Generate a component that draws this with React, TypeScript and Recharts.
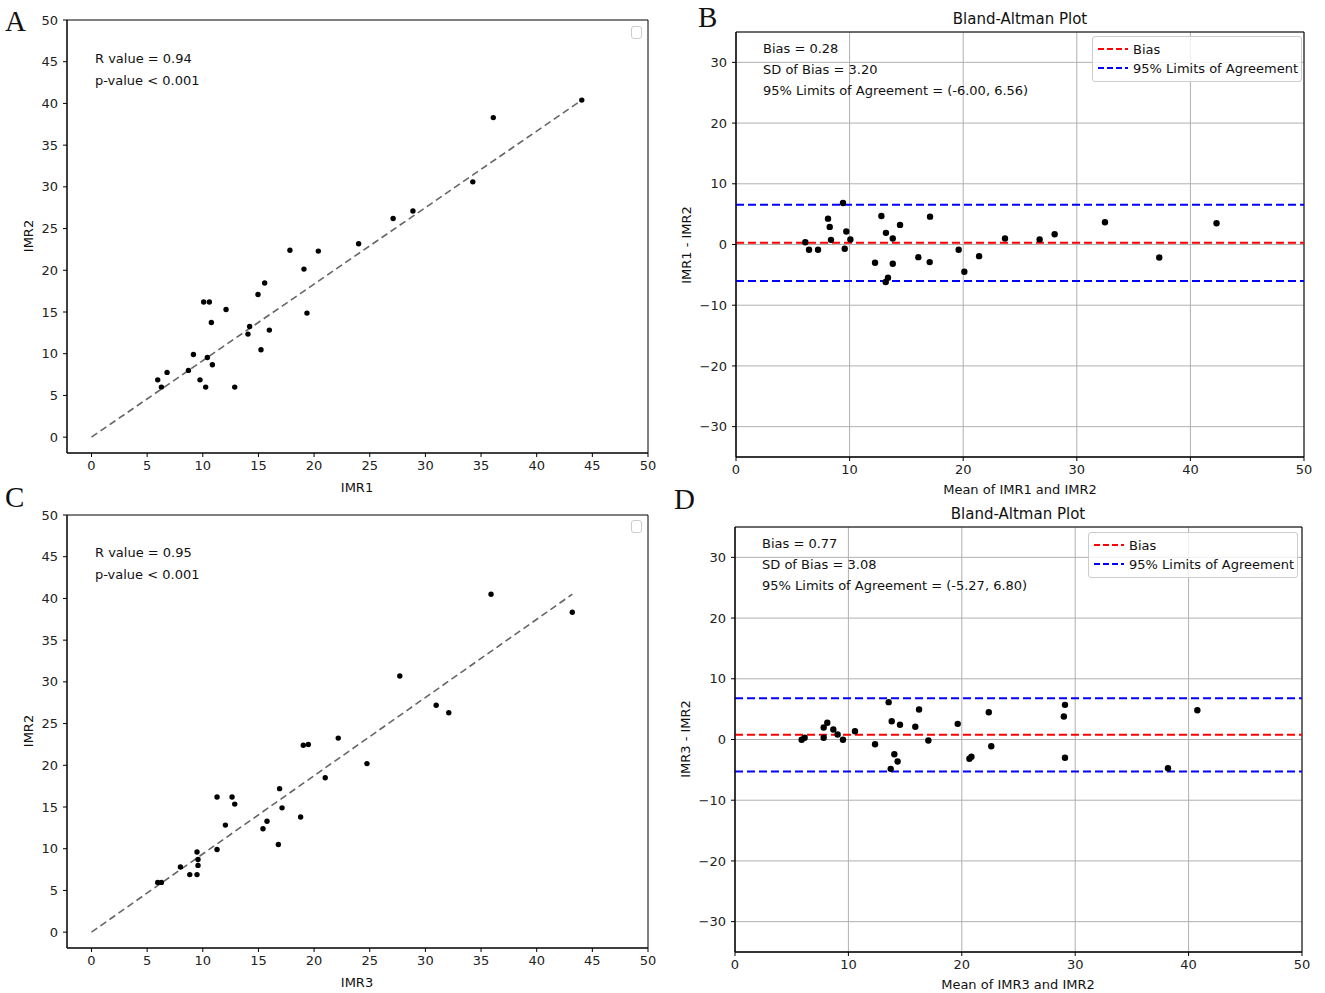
import React from 'react'
import {
  ScatterChart,
  Scatter,
  XAxis,
  YAxis,
  CartesianGrid,
  ReferenceLine,
  ReferenceArea,
} from 'recharts'

// values
const imr1A = [5.95, 6.28, 6.79, 8.71, 9.16, 9.75, 10.26, 10.41, 10.86, 10.08, 10.59, 10.77, 12.09, 12.87, 14.06, 14.21, 15.23, 15.98, 14.96, 15.56, 17.83, 19.09, 19.36, 20.38, 24.0, 27.1, 28.88, 34.26, 36.1, 44.05]
const imr2A = [6.87, 6.0, 7.76, 8.0, 9.9, 6.87, 6.0, 9.55, 8.67, 16.2, 16.2, 13.75, 15.3, 6.0, 12.35, 13.27, 10.47, 12.83, 17.1, 18.47, 22.4, 20.14, 14.87, 22.3, 23.18, 26.2, 27.1, 30.6, 38.3, 40.4]
const fitA = [{ x: 0, y: 0 }, { x: 44.05, y: 40.4 }]

const meanB = [6.1, 6.43, 7.22, 8.1, 8.25, 8.36, 9.42, 9.71, 9.57, 10.07, 12.24, 12.8, 13.2, 13.8, 14.44, 13.8, 13.38, 13.18, 16.05, 17.05, 17.08, 19.6, 20.1, 21.4, 23.68, 26.73, 28.05, 32.48, 37.26, 42.3]
const diffB = [0.38, -0.87, -0.87, 4.26, 2.9, 0.77, 6.84, 2.13, -0.7, 0.82, -3.0, 4.7, 1.92, 0.98, 3.23, -3.16, -5.46, -6.18, -2.08, -2.9, 4.59, -0.87, -4.48, -1.92, 0.98, 0.82, 1.7, 3.66, -2.13, 3.5]
const statsB = { bias: 0.28, sd: 3.2, lo: -6.0, hi: 6.56 }

const imr3C = [5.95, 6.28, 7.99, 8.83, 9.48, 9.48, 9.57, 9.57, 11.28, 11.28, 12.03, 12.63, 12.87, 15.41, 15.77, 16.79, 16.9, 17.12, 18.79, 19.03, 19.48, 21.0, 22.17, 24.75, 27.7, 30.97, 32.1, 35.9, 43.2]
const imr2C = [5.96, 5.96, 7.8, 6.9, 6.9, 9.6, 8.7, 8.0, 9.9, 16.2, 12.83, 16.2, 15.35, 12.4, 13.3, 10.5, 17.2, 14.9, 13.8, 22.4, 22.5, 18.5, 23.26, 20.2, 30.7, 27.2, 26.3, 40.5, 38.35]
const fitC = [{ x: 0, y: 0 }, { x: 43.2, y: 40.5 }]

const meanD = [5.88, 6.14, 7.82, 7.82, 8.14, 8.67, 9.05, 9.52, 10.58, 12.35, 13.55, 13.82, 14.05, 14.34, 13.73, 14.55, 15.9, 16.23, 17.05, 19.64, 20.67, 20.85, 22.38, 22.6, 29.1, 29.0, 29.1, 38.18, 40.77]
const diffD = [-0.05, 0.28, 0.28, 1.98, 2.75, 1.65, 0.82, -0.05, 1.37, -0.77, 6.15, 3.0, -2.42, -3.62, -4.83, 2.42, 2.09, 4.94, -0.16, 2.58, -3.18, -2.85, 4.5, -1.1, 5.71, 3.79, -3.0, -4.73, 4.83]
const statsD = { bias: 0.77, sd: 3.08, lo: -5.27, hi: 6.8 }

const corrTicks = [0, 5, 10, 15, 20, 25, 30, 35, 40, 45, 50]
const baXTicks = [0, 10, 20, 30, 40, 50]
const baYTicks = [-30, -20, -10, 0, 10, 20, 30]

const FONT = '"DejaVu Sans", sans-serif'
const tickStyle = { fontSize: 13, fill: '#222', fontFamily: FONT }
const fmt = (v: number) => (v < 0 ? '\u2212' + Math.abs(v) : String(v))
const zip = (xs: number[], ys: number[]) => xs.map((x, i) => ({ x, y: ys[i] }))
const dot = (r: number) => (p: any) => <circle cx={p.cx} cy={p.cy} r={r} fill="#000" />

const Txt = ({ x, y, size = 13, anchor = 'start', rotate = 0, family = FONT, children }: any) => (
  <div
    style={{
      position: 'absolute',
      left: x,
      top: y,
      fontSize: size,
      fontFamily: family,
      lineHeight: 1,
      whiteSpace: 'nowrap',
      color: '#111',
      transform: `translate(${anchor === 'middle' ? '-50%' : '0'}, -50%) rotate(${rotate}deg)`,
    }}
  >
    {children}
  </div>
)

const CorrChart = ({ top, mt, xH, xs, ys, fit }: any) => (
  <div style={{ position: 'absolute', left: 0, top }}>
    <ScatterChart width={662} height={mt + 433 + xH} margin={{ top: mt, right: 14, bottom: 0, left: 0 }}>
      <XAxis type="number" dataKey="x" domain={[-2.2, 50]} allowDataOverflow ticks={corrTicks} height={xH}
        tick={tickStyle} tickSize={4} tickMargin={4} tickLine={{ stroke: '#000' }} axisLine={{ stroke: '#000' }} />
      <YAxis type="number" dataKey="y" domain={[-1.9, 50]} allowDataOverflow ticks={corrTicks} width={67}
        tick={tickStyle} tickSize={4} tickMargin={5} tickLine={{ stroke: '#000' }} axisLine={{ stroke: '#000' }} />
      <ReferenceArea x1={-2.2} x2={50} y1={-1.9} y2={50} fill="none" stroke="#000" strokeWidth={1} />
      <ReferenceLine segment={fit} stroke="#666" strokeWidth={1.6} strokeDasharray="7 4" />
      <Scatter data={zip(xs, ys)} shape={dot(2.7)} isAnimationActive={false} />
    </ScatterChart>
  </div>
)

const BAChart = ({ top, mt, xH, yW, mr, xs, ys, s }: any) => (
  <div style={{ position: 'absolute', left: 662, top }}>
    <ScatterChart width={663} height={mt + 425 + xH} margin={{ top: mt, right: mr, bottom: 0, left: 0 }}>
      <CartesianGrid stroke="#b0b0b0" strokeWidth={1} />
      <XAxis type="number" dataKey="x" domain={[0, 50]} allowDataOverflow ticks={baXTicks} height={xH}
        tick={tickStyle} tickSize={4} tickMargin={4} tickLine={{ stroke: '#000' }} axisLine={{ stroke: '#000' }} />
      <YAxis type="number" dataKey="y" domain={[-35, 35]} allowDataOverflow ticks={baYTicks} width={yW}
        tickFormatter={fmt} tick={tickStyle} tickSize={4} tickMargin={5} tickLine={{ stroke: '#000' }} axisLine={{ stroke: '#000' }} />
      <ReferenceLine y={s.bias} stroke="#ff0000" strokeWidth={2} strokeDasharray="8 4" />
      <ReferenceLine y={s.hi} stroke="#0000ff" strokeWidth={2} strokeDasharray="8 4" />
      <ReferenceLine y={s.lo} stroke="#0000ff" strokeWidth={2} strokeDasharray="8 4" />
      <ReferenceArea x1={0} x2={50} y1={-35} y2={35} fill="none" stroke="#000" strokeWidth={1} />
      <Scatter data={zip(xs, ys)} shape={dot(3.2)} isAnimationActive={false} />
    </ScatterChart>
  </div>
)

const LegendBox = ({ x, y }: any) => (
  <div style={{ position: 'absolute', left: x, top: y, width: 208, height: 44, border: '1px solid #ccc', borderRadius: 3, background: 'rgba(255,255,255,0.8)' }}>
    {[['#ff0000', 'Bias', 12], ['#0000ff', '95% Limits of Agreement', 31]].map(([c, label, cy]: any) => (
      <React.Fragment key={label}>
        <svg style={{ position: 'absolute', left: 5, top: cy - 2 }} width={30} height={4}>
          <line x1={0} y1={2} x2={30} y2={2} stroke={c} strokeWidth={2} strokeDasharray="6 3" />
        </svg>
        <Txt x={40} y={cy}>{label}</Txt>
      </React.Fragment>
    ))}
  </div>
)

const EmptyLegend = ({ x, y }: any) => (
  <div style={{ position: 'absolute', left: x, top: y, width: 9, height: 11, border: '1px solid #ccc', borderRadius: 3 }} />
)

const serif = '"Liberation Serif", "Times New Roman", serif'

export default function App() {
  return (
    <div style={{ position: 'absolute', left: 0, top: 0, width: 1325, height: 993, background: '#fff', overflow: 'hidden' }}>
      <CorrChart top={0} mt={20} xH={43} xs={imr1A} ys={imr2A} fit={fitA} />
      <BAChart top={0} mt={32} xH={38} yW={74} mr={21} xs={meanB} ys={diffB} s={statsB} />
      <CorrChart top={496} mt={19} xH={45} xs={imr3C} ys={imr2C} fit={fitC} />
      <BAChart top={496} mt={31} xH={42} yW={73} mr={23} xs={meanD} ys={diffD} s={statsD} />

      <Txt x={5} y={21} size={29} family={serif}>A</Txt>
      <Txt x={698} y={17} size={29} family={serif}>B</Txt>
      <Txt x={5} y={497} size={29} family={serif}>C</Txt>
      <Txt x={674} y={499} size={29} family={serif}>D</Txt>

      <Txt x={95} y={58}>R value = 0.94</Txt>
      <Txt x={95} y={80}>p-value &lt; 0.001</Txt>
      <EmptyLegend x={631} y={26} />
      <Txt x={357} y={487} anchor="middle">IMR1</Txt>
      <Txt x={28} y={236} anchor="middle" rotate={-90}>IMR2</Txt>

      <Txt x={1020} y={19} size={15} anchor="middle">Bland-Altman Plot</Txt>
      <Txt x={763} y={48}>Bias = 0.28</Txt>
      <Txt x={763} y={69}>SD of Bias = 3.20</Txt>
      <Txt x={763} y={90}>95% Limits of Agreement = (-6.00, 6.56)</Txt>
      <LegendBox x={1092} y={36} />
      <Txt x={1020} y={489} anchor="middle">Mean of IMR1 and IMR2</Txt>
      <Txt x={686} y={245} anchor="middle" rotate={-90}>IMR1 - IMR2</Txt>

      <Txt x={95} y={552}>R value = 0.95</Txt>
      <Txt x={95} y={574}>p-value &lt; 0.001</Txt>
      <EmptyLegend x={631} y={520} />
      <Txt x={357} y={982} anchor="middle">IMR3</Txt>
      <Txt x={28} y={731} anchor="middle" rotate={-90}>IMR2</Txt>

      <Txt x={1018} y={514} size={15} anchor="middle">Bland-Altman Plot</Txt>
      <Txt x={762} y={543}>Bias = 0.77</Txt>
      <Txt x={762} y={564}>SD of Bias = 3.08</Txt>
      <Txt x={762} y={585}>95% Limits of Agreement = (-5.27, 6.80)</Txt>
      <LegendBox x={1088} y={532} />
      <Txt x={1018} y={984} anchor="middle">Mean of IMR3 and IMR2</Txt>
      <Txt x={685} y={739} anchor="middle" rotate={-90}>IMR3 - IMR2</Txt>
    </div>
  )
}
